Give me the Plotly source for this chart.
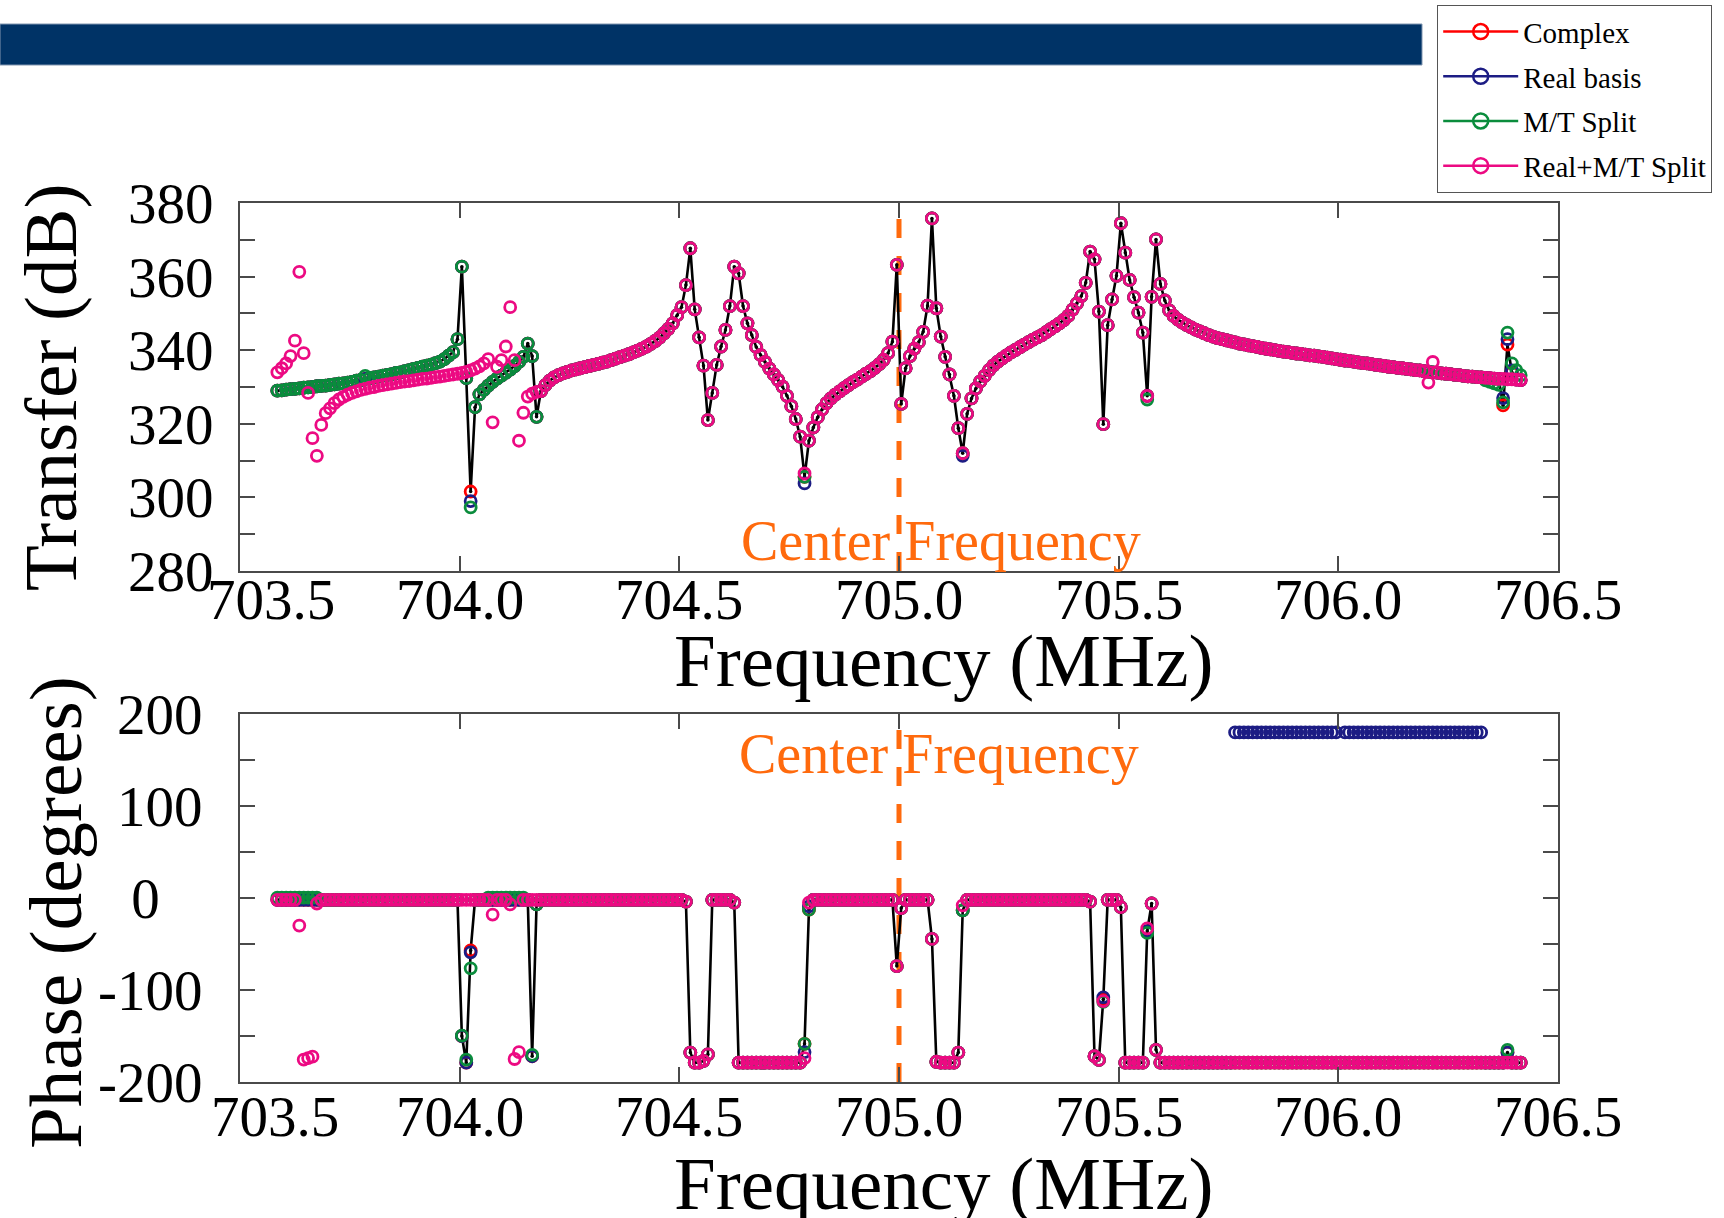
import plotly.graph_objects as go

W, H = 1724, 1218
SERIF = "Liberation Serif"

# Frequency sweep: 284 samples, 10 kHz apart
freq_mhz = [round(703.585 + 0.01 * k, 3) for k in range(284)]

# ---- Transfer (dB): curve shared by the solvers (rows of 10 samples) ----
transfer_common = [
    329.0, 329.1, 329.3, 329.4, 329.5, 329.6, 329.8, 329.9, 330.0, 330.2,
    330.3, 330.4, 330.6, 330.7, 330.9, 331.0, 331.2, 331.4, 331.7, 331.9,
    332.2, 332.4, 332.6, 332.8, 333.1, 333.3, 333.5, 333.8, 334.0, 334.3,
    334.6, 334.9, 335.2, 335.5, 335.8, 336.1, 336.5, 336.9, 337.6, 338.5,
    339.5, 343.0, 362.7, 332.4, 301.6, 324.5, 328.0, 329.2, 330.4, 331.4,
    332.3, 333.1, 333.9, 334.7, 335.7, 336.8, 338.2, 341.8, 338.4, 321.9,
    328.9, 330.5, 331.7, 332.6, 333.2, 333.7, 334.1, 334.5, 334.8, 335.1,
    335.4, 335.7, 336.0, 336.3, 336.6, 336.9, 337.3, 337.7, 338.1, 338.5,
    338.9, 339.4, 339.9, 340.4, 341.0, 341.7, 342.5, 343.4, 344.6, 345.8,
    347.3, 349.5, 351.7, 357.7, 367.7, 351.1, 343.5, 335.8, 321.0, 328.4,
    336.0, 341.0, 345.5, 352.0, 362.7, 360.9, 352.0, 347.3, 344.1, 340.9,
    338.7, 336.8, 335.0, 333.4, 331.9, 330.1, 327.6, 324.8, 321.3, 316.5,
    305.6, 315.4, 319.0, 321.8, 323.9, 325.6, 326.9, 327.9, 328.8, 329.7,
    330.5, 331.3, 332.0, 332.8, 333.6, 334.3, 335.2, 336.2, 337.4, 339.2,
    342.3, 363.2, 325.4, 335.1, 338.4, 340.4, 342.2, 345.0, 352.1, 375.8,
    351.4, 343.7, 338.2, 333.4, 327.6, 318.8, 312.0, 322.7, 326.9, 329.6,
    331.5, 333.0, 334.6, 335.9, 336.9, 337.8, 338.6, 339.4, 340.1, 340.8,
    341.5, 342.2, 342.9, 343.5, 344.1, 344.9, 345.7, 346.5, 347.3, 348.2,
    349.3, 351.0, 352.7, 354.7, 358.3, 366.8, 364.7, 350.5, 319.9, 346.8,
    353.8, 360.2, 374.5, 366.5, 359.1, 354.4, 350.2, 344.8, 327.6, 354.5,
    370.1, 358.0, 353.5, 350.8, 349.3, 348.3, 347.5, 346.8, 346.2, 345.6,
    345.1, 344.6, 344.1, 343.7, 343.3, 343.0, 342.7, 342.4, 342.1, 341.8,
    341.6, 341.3, 341.1, 340.9, 340.6, 340.4, 340.2, 340.0, 339.8, 339.6,
    339.5, 339.3, 339.1, 339.0, 338.8, 338.6, 338.5, 338.3, 338.2, 338.0,
    337.8, 337.6, 337.4, 337.2, 337.1, 336.9, 336.7, 336.5, 336.4, 336.2,
    336.0, 335.9, 335.7, 335.5, 335.4, 335.2, 335.1, 334.9, 334.8, 334.6,
    334.5, 334.3, 334.2, 334.0, 333.9, 333.7, 333.6, 333.5, 333.3, 333.2,
    333.0, 332.9, 332.8, 332.7, 332.6, 332.5, 332.4, 332.3, 332.2, 332.2,
    332.1, 332.1, 332.0, 331.9,
]

# Real+M/T Split follows its own branch over the first 60 samples
rmt_transfer_head = [
    334.0, 335.1, 336.4, 338.4, 342.6, 361.3, 339.2, 328.4, 316.1, 311.3,
    319.7, 322.9, 324.2, 325.6, 326.6, 327.3, 327.9, 328.4, 328.8, 329.2,
    329.5, 329.8, 330.0, 330.3, 330.5, 330.7, 330.9, 331.1, 331.3, 331.5,
    331.6, 331.8, 332.0, 332.2, 332.3, 332.5, 332.7, 332.8, 333.0, 333.2,
    333.4, 333.6, 333.8, 334.1, 334.5, 335.0, 335.6, 336.4, 337.6, 320.4,
    335.5, 337.3, 341.0, 351.7, 337.3, 315.4, 323.0, 327.4, 328.2, 328.7,
]

# Per-solver departures from the shared curve  {frequency: dB}
complex_transfer_fix = {706.375: 325.0, 706.385: 341.5, 706.395: 334.0}
real_transfer_fix = {704.025: 299.0, 704.785: 303.8, 705.145: 311.3,
                     706.375: 327.0, 706.385: 343.0, 706.395: 334.5}
mt_transfer_fix = {703.785: 333.0, 704.025: 297.3, 705.565: 326.6,
                   706.335: 331.8, 706.345: 331.4, 706.355: 331.0,
                   706.365: 330.6, 706.375: 325.8, 706.385: 344.8,
                   706.395: 336.4, 706.405: 334.6, 706.415: 333.2}
rmt_transfer_fix = {704.785: 306.5, 706.205: 331.2, 706.215: 336.8}

# ---- Phase (degrees) ----
Z, L = -2.0, -179.0
phase_common = (
    [Z] * 40
    + [Z, Z, -150.0, L, -57.0, Z, Z, Z, Z, Z]
    + [Z] * 8 + [-172.0, -7.0]
    + [Z] * 30
    + [Z, Z, Z, -4.0, -168.0, L, L, -177.0, -170.0, Z]
    + [Z, Z, Z, Z, -5.0, L, L, L, L, L]
    + [L] * 10
    + [-158.5, -12.7] + [Z] * 8
    + [Z] * 10
    + [Z, -74.0, -11.0, Z, Z, Z, Z, Z, Z, -44.5]
    + [-178.0, L, L, L, L, -168.0, -13.5, Z, Z, Z]
    + [Z] * 20
    + [Z, Z, Z, Z, Z, -4.0, -172.0, -176.0, -110.0, Z]
    + [Z, Z, -10.0, L, L, L, L, L, -36.0, -6.0]
    + [-165.0] + [L] * 9
    + [L] * 70
    + [-168.0, L, L, L]
)

complex_phase_fix = {}
real_phase_fix = {704.025: -59.0, 704.785: -167.5, 704.795: -9.0, 705.465: -108.0}
real_wrapped_from, real_wrapped_to, real_gap = 705.765, 706.325, 706.005
mt_phase_fix = {704.005: -149.5, 704.015: -175.6, 704.025: -76.4, 704.165: -170.5,
                705.465: -113.0, 705.565: -38.0, 706.385: -165.0}
mt_phase_lifted = [(703.585, 703.675), (704.065, 704.145)]
rmt_phase_fix = {703.635: -30.0, 703.645: -175.6, 703.655: -174.0, 703.665: -172.5,
                 703.675: -6.0, 704.005: Z, 704.015: Z, 704.025: Z, 704.075: -18.0,
                 704.115: -7.0, 704.125: -175.0, 704.135: -167.6, 704.165: Z,
                 704.175: Z, 704.785: -174.0, 704.795: -5.0, 705.145: -8.0,
                 705.465: -112.0, 705.565: -33.0, 706.385: L}

series_names = ["Complex", "Real basis", "M/T Split", "Real+M/T Split"]
series_colors = ["#FF0000", "#1C1C84", "#0A8C3C", "#EC0A82"]

x_ticks = [703.5, 704.0, 704.5, 705.0, 705.5, 706.0, 706.5]
x_tick_text = ["703.5", "704.0", "704.5", "705.0", "705.5", "706.0", "706.5"]
transfer_ticks = [280, 290, 300, 310, 320, 330, 340, 350, 360, 370, 380]
transfer_tick_text = ["280", "", "300", "", "320", "", "340", "", "360", "", "380"]
phase_ticks = [-200, -150, -100, -50, 0, 50, 100, 150, 200]
phase_tick_text = ["-200", "", "-100", "", "0\u00a0\u00a0\u00a0", "", "100", "", "200"]
center_freq = 705.0


def idx(f):
    return int(round((f - freq_mhz[0]) / 0.01))


def patched(base, fixes):
    out = list(base)
    for f, v in fixes.items():
        out[idx(f)] = v
    return out


transfer = {
    "Complex": patched(transfer_common, complex_transfer_fix),
    "Real basis": patched(transfer_common, real_transfer_fix),
    "M/T Split": patched(transfer_common, mt_transfer_fix),
    "Real+M/T Split": patched(rmt_transfer_head + transfer_common[len(rmt_transfer_head):],
                              rmt_transfer_fix),
}

real_phase = patched(phase_common, real_phase_fix)
for k in range(idx(real_wrapped_from), idx(real_wrapped_to) + 1):
    real_phase[k] = 180.0
real_phase[idx(real_gap)] = L
mt_phase = patched(phase_common, mt_phase_fix)
for a, b in mt_phase_lifted:
    for k in range(idx(a), idx(b) + 1):
        mt_phase[k] = 0.5
phase = {
    "Complex": patched(phase_common, complex_phase_fix),
    "Real basis": real_phase,
    "M/T Split": mt_phase,
    "Real+M/T Split": patched(phase_common, rmt_phase_fix),
}

fig = go.Figure()

for xa, ya, data in (("x", "y", transfer), ("x2", "y2", phase)):
    # reference trace: black line with a dot at every sample
    fig.add_trace(go.Scatter(
        x=freq_mhz, y=data["Complex"], xaxis=xa, yaxis=ya, mode="lines+markers",
        line=dict(color="black", width=2.6), marker=dict(color="black", size=3.5),
        showlegend=False, hoverinfo="skip"))
    for name, color in zip(series_names, series_colors):
        fig.add_trace(go.Scatter(
            x=freq_mhz, y=data[name], xaxis=xa, yaxis=ya, mode="markers", name=name,
            legendgroup=name, showlegend=False,
            marker=dict(symbol="circle-open", size=11, color=color, line=dict(width=2.8))))

# legend entries (line + open circle)
for name, color in zip(series_names, series_colors):
    fig.add_trace(go.Scatter(
        x=[None], y=[None], mode="lines+markers", name=name, legendgroup=name,
        line=dict(color=color, width=2.5),
        marker=dict(symbol="circle-open", size=15, color=color, line=dict(width=2.5))))

x0, x1 = 240 / W, 1558 / W
top_dom = [1 - 571 / H, 1 - 203 / H]
bot_dom = [1 - 1082 / H, 1 - 714 / H]

axis_style = dict(showline=True, mirror="ticks", linecolor="#4a4a4a", linewidth=2,
                  ticks="inside", ticklen=15, tickwidth=2, tickcolor="#4a4a4a",
                  showgrid=False, zeroline=False, automargin=False,
                  tickfont=dict(family=SERIF, size=57, color="black"))

fig.update_layout(
    template="none",
    width=W, height=H, margin=dict(l=0, r=0, t=0, b=0, pad=0, autoexpand=False),
    paper_bgcolor="white", plot_bgcolor="white",
    xaxis=dict(domain=[x0, x1], anchor="y", range=[703.5, 706.5], tickmode="array",
               tickvals=x_ticks, showticklabels=False, **axis_style),
    yaxis=dict(domain=top_dom, anchor="x", range=[280, 380], tickmode="array",
               tickvals=transfer_ticks, ticktext=transfer_tick_text, ticklabelstandoff=13,
               **axis_style),
    xaxis2=dict(domain=[x0, x1], anchor="y2", range=[703.5, 706.5], tickmode="array",
                tickvals=x_ticks, showticklabels=False, **axis_style),
    yaxis2=dict(domain=bot_dom, anchor="x2", range=[-200, 200], tickmode="array",
                tickvals=phase_ticks, ticktext=phase_tick_text, ticklabelstandoff=24,
                **axis_style),
    legend=dict(x=1437 / W, y=1 - 5 / H, xanchor="left", yanchor="top",
                bordercolor="#555555", borderwidth=1.2, bgcolor="white",
                font=dict(family=SERIF, size=29, color="black"), tracegroupgap=4,
                itemwidth=75),
    showlegend=True,
)

orange = "#FF6A0D"
shapes = [
    # slide header band
    dict(type="rect", xref="paper", yref="paper", x0=0, x1=1422 / W,
         y0=1 - 65 / H, y1=1 - 24 / H, fillcolor="#003366",
         line=dict(color="#8196B0", width=1), layer="above"),
]
for xr, yr in (("x", "y domain"), ("x2", "y2 domain")):
    shapes.append(dict(type="line", xref=xr, yref=yr, x0=center_freq, x1=center_freq,
                       y0=0, y1=1, line=dict(color=orange, width=5, dash="19px,18px"),
                       layer="below"))
fig.update_layout(shapes=shapes)

title_font = dict(family=SERIF, size=75, color="black")
tick_font = dict(family=SERIF, size=57, color="black")
ann = [
    dict(text="Frequency (MHz)", x=943 / W, y=1 - 661 / H, font=title_font),
    dict(text="Frequency (MHz)", x=943 / W, y=1 - 1183 / H, font=title_font),
    dict(text="Transfer (dB)", x=50 / W, y=1 - 387 / H, font=title_font, textangle=-90),
    dict(text="Phase (degrees)", x=55 / W, y=1 - 913 / H, font=title_font, textangle=-90),
    dict(text="Center Frequency", x=941 / W, y=1 - 541 / H,
         font=dict(family=SERIF, size=56, color=orange)),
    dict(text="Center Frequency", x=939 / W, y=1 - 754 / H,
         font=dict(family=SERIF, size=56, color=orange)),
]
for a in ann:
    a.update(xref="paper", yref="paper", xanchor="center", yanchor="middle",
             showarrow=False)

# frequency tick labels under each panel
for xr, y_px, first_shift in (("x", 599, 31), ("x2", 1116, 35)):
    for k, (v, t) in enumerate(zip(x_ticks, x_tick_text)):
        ann.append(dict(text=t, x=v, xref=xr, y=1 - y_px / H, yref="paper",
                        xanchor="center", yanchor="middle", showarrow=False,
                        xshift=first_shift if k == 0 else 0, font=tick_font))
fig.update_layout(annotations=ann)

fig.write_html("out.html")
